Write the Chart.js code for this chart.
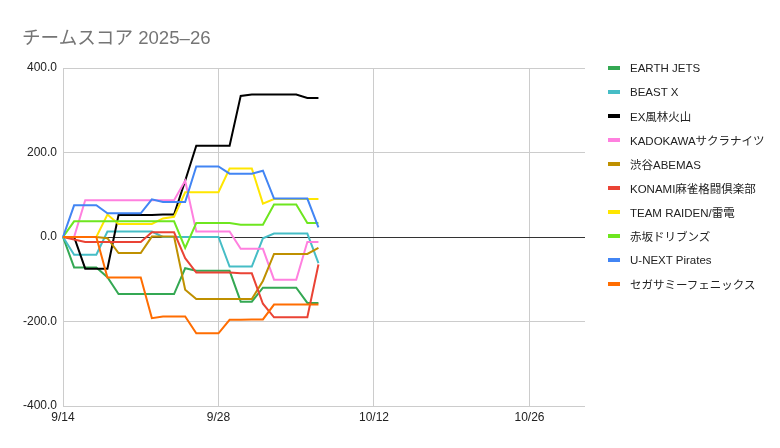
<!DOCTYPE html>
<html>
<head>
<meta charset="utf-8">
<script src="https://cdn.jsdelivr.net/npm/chart.js@4.4.1/dist/chart.umd.min.js"></script>
<style>
  body { margin: 0; background: #fff; font-family: "Liberation Sans", Arial, "Noto Sans CJK JP", sans-serif; }
  #wrap { position: relative; width: 780px; height: 448px; }
  #title { position: absolute; left: 22px; top: 22px; font-size: 18.6px; color: #757575; white-space: nowrap; }
  #legend { position: absolute; left: 608px; top: 56px; font-size: 11.5px; color: #222; }
  .item { height: 24px; display: flex; align-items: center; white-space: nowrap; }
  .swatch { width: 12px; height: 4px; margin-right: 10px; }
</style>
</head>
<body>
<div id="wrap">
  <canvas id="chart"></canvas>
  <div id="title">チームスコア 2025–26</div>
  <div id="legend"></div>
</div>
<script>
// x axis: one label per day, 9/14 through 10/31
const dateLabels = [
  "9/14", "9/15", "9/16", "9/17", "9/18", "9/19", "9/20", "9/21", "9/22", "9/23",
  "9/24", "9/25", "9/26", "9/27", "9/28", "9/29", "9/30", "10/1", "10/2", "10/3",
  "10/4", "10/5", "10/6", "10/7", "10/8", "10/9", "10/10", "10/11", "10/12", "10/13",
  "10/14", "10/15", "10/16", "10/17", "10/18", "10/19", "10/20", "10/21", "10/22", "10/23",
  "10/24", "10/25", "10/26", "10/27", "10/28", "10/29", "10/30", "10/31"
];
const xTickLabels = ["9/14", "9/28", "10/12", "10/26"];
const yTicks = [-400, -200, 0, 200, 400];

const teamNames = [
  "EARTH JETS", "BEAST X", "EX風林火山", "KADOKAWAサクラナイツ", "渋谷ABEMAS",
  "KONAMI麻雀格闘倶楽部", "TEAM RAIDEN/雷電", "赤坂ドリブンズ", "U-NEXT Pirates", "セガサミーフェニックス"
];

// cumulative score, 9/14 .. 10/7
const earthJets = [0, -72, -72, -72, -95, -135, -135, -135, -135, -135, -135, -74, -80, -80, -80, -80, -153, -153, -120, -120, -120, -120, -156, -156];
const beastX    = [0, -42, -42, -42, 13, 13, 13, 13, 13, 0, 0, 0, 0, 0, 0, -70, -70, -70, -3, 8, 8, 8, 8, -62];
const exFurin   = [0, 0, -75, -75, -75, 52, 52, 52, 52, 53, 53, 133, 216, 216, 216, 216, 334, 337, 337, 337, 337, 337, 329, 329];
const kadokawa  = [0, 0, 87, 87, 87, 87, 87, 87, 87, 87, 87, 133, 13, 13, 13, 13, -28, -28, -28, -101, -101, -101, -12, -12];
const shibuya   = [0, 0, 0, 0, -3, -38, -38, -38, 1, 1, 1, -125, -147, -147, -147, -147, -147, -147, -104, -40, -40, -40, -40, -26];
const konami    = [0, -6, -12, -12, -12, -12, -12, -12, 11, 11, 11, -50, -84, -84, -84, -84, -86, -86, -158, -190, -190, -190, -190, -65];
const raiden    = [0, 0, 0, 0, 53, 31, 31, 31, 31, 44, 48, 106, 106, 106, 106, 162, 162, 162, 79, 90, 90, 90, 90, 90];
const akasaka   = [0, 37, 37, 37, 37, 37, 37, 37, 37, 37, 37, -26, 33, 33, 33, 33, 29, 29, 29, 77, 77, 77, 33, 33];
const unext     = [0, 75, 75, 75, 56, 56, 56, 56, 89, 83, 83, 83, 167, 167, 167, 150, 150, 150, 157, 91, 91, 91, 91, 23];
const segaSammy = [0, 0, 0, 0, -96, -96, -96, -96, -192, -188, -188, -188, -228, -228, -228, -196, -196, -195, -195, -160, -160, -160, -160, -160];

const seriesData = [earthJets, beastX, exFurin, kadokawa, shibuya, konami, raiden, akasaka, unext, segaSammy];
const teamColors = ["#34a853", "#46bdc6", "#000000", "#ff80df", "#bf9000", "#ea4335", "#ffe600", "#6ee61f", "#4285f4", "#ff6d01"];

const FONT = "'Liberation Sans', Arial, 'Noto Sans CJK JP', sans-serif";

new Chart(document.getElementById("chart"), {
  type: "line",
  data: {
    labels: dateLabels,
    datasets: teamNames.map((name, i) => ({
      label: name,
      data: seriesData[i],
      borderColor: teamColors[i],
      backgroundColor: teamColors[i],
      borderWidth: 2,
      pointRadius: 0,
      tension: 0,
      fill: false,
      order: teamNames.length - i,
    })),
  },
  options: {
    responsive: true,
    maintainAspectRatio: false,
    animation: false,
    layout: { padding: { left: 0, right: 195, top: 68, bottom: 0 } },
    plugins: { legend: { display: false }, tooltip: { enabled: false } },
    scales: {
      x: {
        type: "category",
        offset: false,
        afterBuildTicks: (scale) => {
          scale.ticks = scale.ticks.filter((t) => xTickLabels.includes(dateLabels[t.value]));
        },
        afterFit: (scale) => { scale.height = 42; },
        ticks: { autoSkip: false, maxRotation: 0, padding: 4, color: "#222", font: { family: FONT, size: 12 } },
        grid: { color: "#cccccc", drawTicks: false },
        border: { display: false },
      },
      y: {
        min: yTicks[0],
        max: yTicks[yTicks.length - 1],
        afterBuildTicks: (scale) => { scale.ticks = yTicks.map((v) => ({ value: v })); },
        afterFit: (scale) => { scale.width = 63; },
        ticks: { padding: 6, color: "#222", font: { family: FONT, size: 12 }, callback: (v) => Number(v).toFixed(1) },
        grid: { color: (ctx) => (ctx.tick && ctx.tick.value === 0 ? "#333333" : "#cccccc"), drawTicks: false },
        border: { display: false },
      },
    },
  },
});

const legend = document.getElementById("legend");
teamNames.forEach((name, i) => {
  const row = document.createElement("div");
  row.className = "item";
  const sw = document.createElement("span");
  sw.className = "swatch";
  sw.style.background = teamColors[i];
  const txt = document.createElement("span");
  txt.textContent = name;
  row.appendChild(sw);
  row.appendChild(txt);
  legend.appendChild(row);
});
</script>
</body>
</html>
